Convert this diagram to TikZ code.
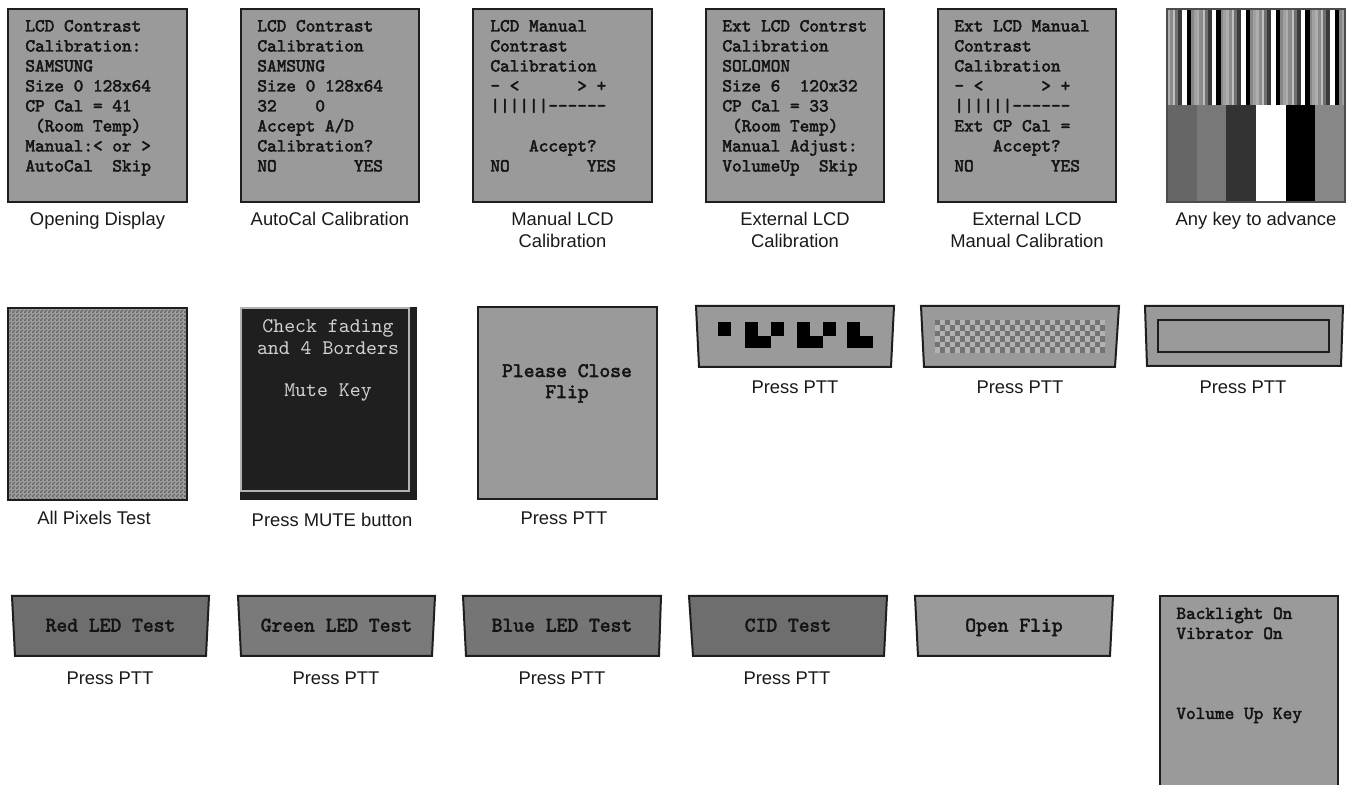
\documentclass[tikz,border=0pt]{standalone}
\usepackage{fontspec}
\setmainfont{Liberation Sans}
\newfontfamily\bmono{lmmono10-regular.otf}[FakeBold=2.5]
\usetikzlibrary{patterns}
\pgfdeclarepatternformonly{finecheck}{\pgfpointorigin}{\pgfqpoint{2pt}{2pt}}{\pgfqpoint{2pt}{2pt}}{%
  \pgfpathrectangle{\pgfpointorigin}{\pgfqpoint{1pt}{1pt}}%
  \pgfpathrectangle{\pgfqpoint{1pt}{1pt}}{\pgfqpoint{1pt}{1pt}}%
  \pgfusepath{fill}}
\definecolor{scr}{HTML}{9A9A9A}
\definecolor{edge}{HTML}{1E1E1E}
\definecolor{txt}{HTML}{141414}
\definecolor{cap}{HTML}{1A1A1A}
\definecolor{mutebg}{HTML}{1F1F1F}
\definecolor{mutetx}{HTML}{D2D2D2}
\newcommand\scrL[1]{\begin{tabular}[t]{@{}l@{}}#1\end{tabular}}
\newcommand\scrC[1]{\begin{tabular}[t]{@{}c@{}}#1\end{tabular}}
\begin{document}
\begin{tikzpicture}[x=0.5pt,y=-0.5pt,
  screen/.style={fill=scr,draw=edge,line width=1pt},
  mono/.style={inner sep=0pt,anchor=base west,text=txt,font=\bmono\bfseries\fontsize{9.2}{10}\selectfont},
  monoc/.style={inner sep=0pt,anchor=base,text=txt,font=\bmono\bfseries\fontsize{10.3}{10.5}\selectfont},
  caption/.style={inner sep=0pt,anchor=base,text=cap,font=\fontsize{9.2}{11}\selectfont}]
\useasboundingbox (0,0) rectangle (1351,785);
\fill[white] (0,0) rectangle (1351,785);

% ---------- Row 1 ----------
\draw[screen] (8,9) rectangle (187,202);
\node[mono] (t1) at (25,31.5) {\scrL{LCD Contrast\\Calibration:\\SAMSUNG\\Size 0 128x64\\CP Cal = 41\\~(Room Temp)\\Manual:< or >\\AutoCal~~Skip}};
\node[caption] (c1) at (97.5,226) {Opening Display};

\draw[screen] (241,9) rectangle (419,202);
\node[mono] (t2) at (257,31.5) {\scrL{LCD Contrast\\Calibration\\SAMSUNG\\Size 0 128x64\\32~~~~0\\Accept A/D\\Calibration?\\NO~~~~~~~~YES}};
\node[caption] (c2) at (330,226) {AutoCal Calibration};

\draw[screen] (473,9) rectangle (652,202);
\node[mono] (t3) at (490,31.5) {\scrL{LCD Manual\\Contrast\\Calibration\\-~<~~~~~~>~+\\||||||------\\~\\~~~~Accept?\\NO~~~~~~~~YES}};
\node[caption] (c3) at (562.5,226) {\scrC{Manual LCD\\Calibration}};

\draw[screen] (706,9) rectangle (884,202);
\node[mono] (t4) at (722,31.5) {\scrL{Ext LCD Contrst\\Calibration\\SOLOMON\\Size 6~~120x32\\CP Cal = 33\\~(Room Temp)\\Manual Adjust:\\VolumeUp~~Skip}};
\node[caption] (c4) at (795,226) {\scrC{External LCD\\Calibration}};

\draw[screen] (938,9) rectangle (1116,202);
\node[mono] (t5) at (954,31.5) {\scrL{Ext LCD Manual\\Contrast\\Calibration\\-~<~~~~~~>~+\\||||||------\\Ext CP Cal =\\~~~~Accept?\\NO~~~~~~~~YES}};
\node[caption] (c5) at (1027,226) {\scrC{External LCD\\Manual Calibration}};

% colour bars screen
\foreach \c in {0,...,5}{
  \foreach \a/\b/\k in {0/2.5/32, 2.5/6/45, 6/8/25, 8/11/56, 11/15/77, 15/19.5/0, 19.5/24/100, 24/26.5/47, 26.5/29.67/37}{
    \fill[black!\k] ({1167+29.667*\c+\a},9) rectangle ({1167+29.667*\c+\b},105);
  }
}
\foreach \c/\k in {0/60,1/53,2/80,3/0,4/100,5/47}{
  \fill[black!\k] ({1167+29.667*\c},105) rectangle ({1167+29.667*(\c+1)},202);
}
\draw[black!70,line width=0.6pt] (1167,9) rectangle (1345,202);
\node[caption] (c6) at (1256,226) {Any key to advance};

% ---------- Row 2 ----------
\fill[black!38] (8,308) rectangle (187,500);
\fill[pattern=finecheck,pattern color=black!62] (8,308) rectangle (187,500);
\draw[edge,line width=1pt] (8,308) rectangle (187,500);
\node[caption] (c7) at (94,525) {All Pixels Test};

\fill[mutebg] (240,307) rectangle (417,500);
\draw[black!30,line width=1pt] (241,308) rectangle (409,491);
\node[inner sep=0pt,anchor=base,text=mutetx,font=\ttfamily\fontsize{10.4}{10.6}\selectfont] (t8) at (328,333) {\scrC{Check fading\\and 4 Borders\\~\\Mute Key}};
\node[caption] (c8) at (332,527) {Press MUTE button};

\draw[screen] (478,307) rectangle (657,499);
\node[monoc] (t9) at (567,377) {\scrC{Please Close\\Flip}};
\node[caption] (c9) at (564,525) {Press PTT};

\draw[screen] (696,306) -- (894,306) -- (891,367) -- (699,367) -- cycle;
\fill[black] (718,322.3) rectangle (731,335.7);
\fill[black] (745,322.3) rectangle (758.3,348.3);
\fill[black] (758.3,335.7) rectangle (771,348.3);
\fill[black] (771,322.3) rectangle (784.3,335.7);
\fill[black] (796.7,322.3) rectangle (810,348.3);
\fill[black] (810,335.7) rectangle (823.3,348.3);
\fill[black] (823.3,322.3) rectangle (836,335.7);
\fill[black] (847.3,322.3) rectangle (860,348.3);
\fill[black] (860,335.7) rectangle (872.7,348.3);
\node[caption] (c10) at (795,394) {Press PTT};

\draw[screen] (921,306) -- (1119,306) -- (1115,367) -- (924,367) -- cycle;
\fill[black!30] (935,320) rectangle (1105,353);
\foreach \i in {0,2,...,32}{\foreach \j in {0,2,4}{
  \fill[black!55] ({935+5*\i},{320+5.5*\j}) rectangle +(5,5.5);}}
\foreach \i in {1,3,...,33}{\foreach \j in {1,3,5}{
  \fill[black!55] ({935+5*\i},{320+5.5*\j}) rectangle +(5,5.5);}}
\node[caption] (c11) at (1020,394) {Press PTT};

\draw[screen] (1145,306) -- (1343,306) -- (1341,366) -- (1147,366) -- cycle;
\draw[edge,line width=1pt] (1158,320) rectangle (1329,352);
\node[caption] (c12) at (1243,394) {Press PTT};

% ---------- Row 3 ----------
\draw[screen,fill=black!57] (12,596) -- (209,596) -- (206,656) -- (15,656) -- cycle;
\node[monoc] (t13) at (110.5,631.5) {Red LED Test};
\node[caption] (c13) at (110,685) {Press PTT};

\draw[screen,fill=black!52] (238,596) -- (435,596) -- (432,656) -- (241,656) -- cycle;
\node[monoc] (t14) at (336.5,631.5) {Green LED Test};
\node[caption] (c14) at (336,685) {Press PTT};

\draw[screen,fill=black!54] (463,596) -- (661,596) -- (659,656) -- (466,656) -- cycle;
\node[monoc] (t15) at (562,631.5) {Blue LED Test};
\node[caption] (c15) at (562,685) {Press PTT};

\draw[screen,fill=black!57] (689,596) -- (887,596) -- (884,656) -- (693,656) -- cycle;
\node[monoc] (t16) at (788,631.5) {CID Test};
\node[caption] (c16) at (787,685) {Press PTT};

\draw[screen] (915,596) -- (1113,596) -- (1110,656) -- (918,656) -- cycle;
\node[monoc] (t17) at (1014,631.5) {Open Flip};

\fill[scr] (1160,596) rectangle (1338,785);
\draw[edge,line width=1pt] (1160,786) -- (1160,596) -- (1338,596) -- (1338,786);
\node[mono] (t18) at (1176,619) {\begin{tabular}[t]{@{}l@{}}Backlight On\\Vibrator On\\~\\~\\~\\Volume Up Key\end{tabular}};
\end{tikzpicture}
\end{document}
